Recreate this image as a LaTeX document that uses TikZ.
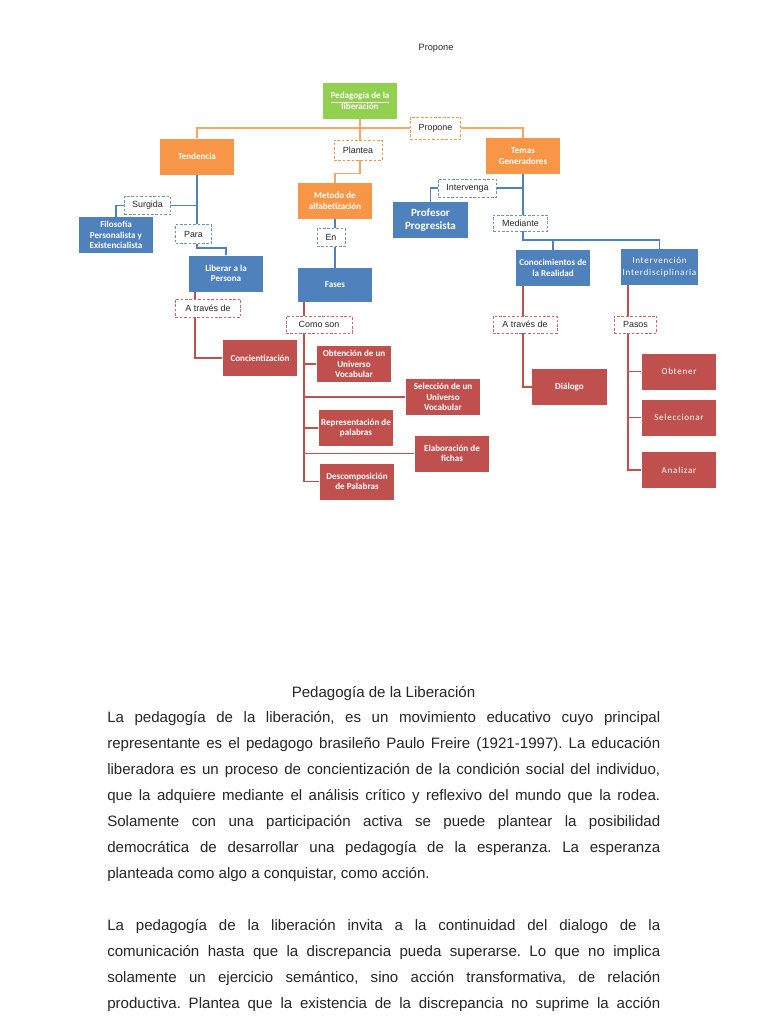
\documentclass[tikz,border=0pt]{standalone}
\usepackage{fontspec}
\setmainfont{Liberation Sans}
\newfontfamily\cajafont{Carlito}
\usetikzlibrary{backgrounds}

\definecolor{naranja}{HTML}{F79646}
\definecolor{azul}{HTML}{4F81BD}
\definecolor{rojo}{HTML}{C0504D}
\definecolor{verde}{HTML}{92D050}

\tikzset{
  caja/.style={rectangle, minimum width=56pt, minimum height=27pt, inner sep=1pt,
    text=white, align=center, font=\cajafont\bfseries\fontsize{6.8}{8}\selectfont},
  cajaN/.style={caja, fill=naranja},
  cajaA/.style={caja, fill=azul},
  cajaR/.style={caja, fill=rojo},
  cajaV/.style={caja, fill=verde},
  fina/.style={font=\cajafont\fontsize{6.8}{8.5}\selectfont\addfontfeature{LetterSpace=8}},
  etiqueta/.style={rectangle, fill=white, dashed, dash pattern=on 2pt off 1.3pt,
    line width=0.6pt, inner sep=1pt, text=black!85, font=\fontsize{6.7}{8}\selectfont},
  etN/.style={etiqueta, draw=naranja},
  etA/.style={etiqueta, draw=azul!85},
  etR/.style={etiqueta, draw=rojo!85},
  lineaN/.style={draw=naranja!85, line width=1.2pt},
  lineaA/.style={draw=azul, line width=1.4pt},
  lineaR/.style={draw=rojo, line width=1.4pt},
  texto/.style={font=\fontsize{11.3}{19.5}\selectfont, text=black!85}
}

\begin{document}
\begin{tikzpicture}[x=0.75pt, y=-0.75pt]
\useasboundingbox (0,0) rectangle (768,1024);

\node[font=\fontsize{6.9}{8}\selectfont, text=black!85] (propTop) at (436,48) {Propone};

% Nivel 1
\node[cajaV] (ped) at (360,101) {\underline{Pedagogía de la}\\liberación};
\node[etN, minimum width=38pt, minimum height=16.5pt] (prop) at (435.5,128) {Propone};
\node[etN, minimum width=36pt, minimum height=15pt] (plan) at (358,150) {Plantea};
\node[cajaN] (tend) at (197,156.5) {Tendencia};
\node[cajaN] (temas) at (523,156) {Temas\\Generadores};
\node[cajaN] (met) at (335,201) {Metodo de\\alfabetización};

% Tendencia
\node[etA, minimum width=34.5pt, minimum height=14pt] (surg) at (147.5,205.5) {Surgida};
\node[cajaA] (filo) at (116,235) {Filosofía\\Personalista y\\Existencialista};
\node[etA, minimum width=27pt, minimum height=14pt] (para) at (193.5,234) {Para};
\node[cajaA] (lib) at (226,273.5) {Liberar a la\\Persona};
\node[etR, minimum width=49pt, minimum height=13.5pt] (atl) at (208,308) {A través de};
\node[cajaR] (conc) at (260,358) {Concientización};

% Metodo
\node[etA, minimum width=21pt, minimum height=14pt] (en) at (331,237.5) {En};
\node[cajaA, minimum height=25.5pt] (fases) at (335,285) {Fases};
\node[etR, minimum width=49.5pt, minimum height=12.75pt] (como) at (319,324.5) {Como son};
\node[cajaR] (obt) at (354,364) {Obtención de un\\Universo\\Vocabular};
\node[cajaR] (sel) at (443,397) {Selección de un\\Universo\\Vocabular};
\node[cajaR] (rep) at (356,428) {Representación de\\palabras};
\node[cajaR] (ela) at (452,453.5) {Elaboración de\\fichas};
\node[cajaR] (desc) at (357,481.5) {Descomposición\\de Palabras};

% Temas Generadores
\node[etA, minimum width=44pt, minimum height=13.5pt] (interv) at (467.5,188) {Intervenga};
\node[cajaA, font=\cajafont\bfseries\fontsize{8.3}{10}\selectfont] (prof) at (430.5,220) {Profesor\\Progresista};
\node[etA, minimum width=41pt, minimum height=12pt] (med) at (520.5,223) {Mediante};
\node[cajaA] (cono) at (553,268) {Conocimientos de\\la Realidad};
\node[cajaA, fina] (inter) at (659.5,267) {Intervención\\Interdisciplinaria};
\node[etR, minimum width=48pt, minimum height=12.75pt] (atr) at (525,324.5) {A través de};
\node[cajaR] (dial) at (569.5,387) {Diálogo};
\node[etR, minimum width=32pt, minimum height=12.75pt] (pasos) at (635.5,324.5) {Pasos};
\node[cajaR, fina] (obtn) at (679,371.5) {Obtener};
\node[cajaR, fina] (selc) at (679,417.5) {Seleccionar};
\node[cajaR, fina] (anal) at (679,470) {Analizar};

\coordinate (rA) at (195,0);
\coordinate (rB) at (304,0);
\coordinate (rC) at (523,0);
\coordinate (rD) at (628,0);

\begin{scope}[on background layer]
\fill[white] (0,0) rectangle (768,1024);

% naranja
\draw[lineaN] (tend.north) |- (prop.center) -| (temas.north);
\draw[lineaN] (ped.south) -- (ped.south |- plan.north);
\draw[lineaN] (plan.south -| ped.south) -- ++(0,13) -| (met.north);

% azul
\draw[lineaA] (tend.south) -- (para.north -| tend.south);
\draw[lineaA] (surg.east) -- (surg.east -| tend.south);
\draw[lineaA] (surg.west) -| (filo.north);
\draw[lineaA] (para.south -| tend.south) -- ++(0,4) -| (lib.north);
\draw[lineaA] (met.south) -- (en.north -| met.south);
\draw[lineaA] (en.south -| met.south) -- (fases.north);
\draw[lineaA] (temas.south) -- (med.north -| temas.south);
\draw[lineaA] (interv.east) -- (interv.east -| temas.south);
\draw[lineaA] (interv.west) -| (prof.north);
\draw[lineaA] (med.south -| temas.south) -- ++(0,9) coordinate (mj) -| (inter.north);
\draw[lineaA] (cono.north) |- (mj);

% rojo
\draw[lineaR] (lib.south -| rA) -- (atl.north -| rA);
\draw[lineaR] (atl.south -| rA) |- (conc.west);
\draw[lineaR] (fases.south -| rB) -- (como.north -| rB);
\draw[lineaR] (como.south -| rB) |- (desc.west);
\foreach \n in {obt,sel,rep,ela}
  \draw[lineaR] (\n.west) -- (\n.west -| rB);
\draw[lineaR] (cono.south -| rC) -- (atr.north -| rC);
\draw[lineaR] (atr.south -| rC) |- (dial.west);
\draw[lineaR] (inter.south -| rD) -- (pasos.north -| rD);
\draw[lineaR] (pasos.south -| rD) |- (anal.west);
\foreach \n in {obtn,selc}
  \draw[lineaR] (\n.west) -- (\n.west -| rD);
\end{scope}

% Texto
\node[texto, anchor=base] (titulo) at (383.5,697) {Pedagogía de la Liberación};
\node[texto, anchor=north west, inner sep=0pt, text width=414.75pt, align=left] (par1) at (107,703.8) {\frenchspacing\spaceskip=0pt\xspaceskip=0pt\strut
\makebox[414.75pt][s]{La pedagogía de la liberación, es un movimiento educativo cuyo principal}\\
\makebox[414.75pt][s]{representante es el pedagogo brasileño Paulo Freire (1921-1997). La educación}\\
\makebox[414.75pt][s]{liberadora es un proceso de concientización de la condición social del individuo,}\\
\makebox[414.75pt][s]{que la adquiere mediante el análisis crítico y reflexivo del mundo que la rodea.}\\
\makebox[414.75pt][s]{Solamente con una participación activa se puede plantear la posibilidad}\\
\makebox[414.75pt][s]{democrática de desarrollar una pedagogía de la esperanza. La esperanza}\\
planteada como algo a conquistar, como acción.};
\node[texto, anchor=north west, inner sep=0pt, text width=414.75pt, align=left] (par2) at (107,911.8) {\frenchspacing\spaceskip=0pt\xspaceskip=0pt\strut
\makebox[414.75pt][s]{La pedagogía de la liberación invita a la continuidad del dialogo de la}\\
\makebox[414.75pt][s]{comunicación hasta que la discrepancia pueda superarse. Lo que no implica}\\
\makebox[414.75pt][s]{solamente un ejercicio semántico, sino acción transformativa, de relación}\\
\makebox[414.75pt][s]{productiva. Plantea que la existencia de la discrepancia no suprime la acción}};

\end{tikzpicture}
\end{document}
